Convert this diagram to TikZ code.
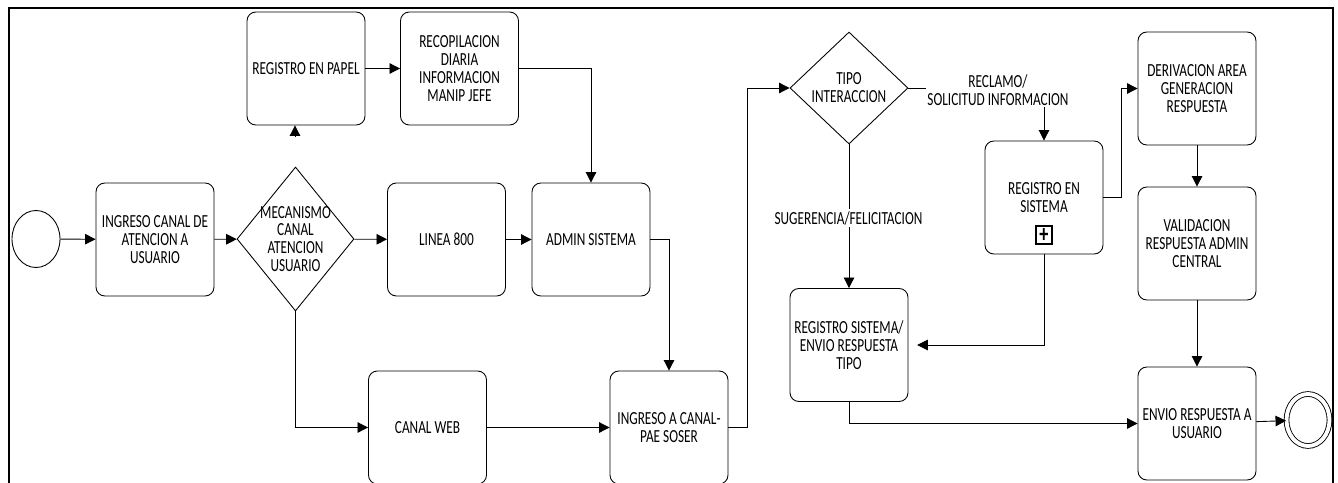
\documentclass[tikz,border=0pt]{standalone}
\usepackage{fontspec}
\setmainfont{Carlito}[FakeStretch=0.72]
\usetikzlibrary{arrows.meta, shapes.geometric, positioning}
\tikzset{
    texto/.style={font=\fontsize{10.5}{10.2}\selectfont, align=center},
    caja/.style={draw, texto, line width=0.5pt, rounded corners=5pt, minimum width=2.36cm, minimum height=2.26cm, inner sep=1pt},
    rombo/.style={draw, diamond, line width=0.5pt, inner sep=0pt},
    evento/.style={draw, ellipse, line width=0.5pt, inner sep=0pt, minimum width=0.96cm, minimum height=1.14cm},
    flecha/.style={line width=0.5pt, -{Triangle[length=6pt,width=6pt]}},
    etiqueta/.style={texto, fill=white, inner sep=1pt},
}

\begin{document}
\begin{tikzpicture}[x=0.02cm, y=-0.02cm]
\useasboundingbox (0,0) rectangle (1338,483);
\draw[line width=1.6pt] (9,483) -- (9,8) -- (1333,8) -- (1333,483);

\node[evento] (inicio) at (36,239) {};
\node[caja] (ingreso) at (155,239.5) {INGRESO CANAL DE\\ATENCION A\\USUARIO};
\node[rombo, minimum width=2.34cm, minimum height=2.88cm,
      label={[texto]center:MECANISMO\\CANAL\\ATENCION\\USUARIO}] (mecanismo) at (295.5,239) {};
\node[caja] (papel) at (306,68.5) {REGISTRO EN PAPEL};
\node[caja] (recopilacion) at (459.5,68.5) {RECOPILACION\\DIARIA\\INFORMACION\\MANIP JEFE};
\node[caja] (linea) at (446.5,239.5) {LINEA 800};
\node[caja] (admin) at (591,239.5) {ADMIN SISTEMA};
\node[caja] (web) at (427.5,427.5) {CANAL WEB};
\node[caja] (pae) at (669,427.5) {INGRESO A CANAL-\\PAE SOSER};
\node[rombo, minimum width=2.36cm, minimum height=2.24cm,
      label={[texto]center:TIPO\\INTERACCION}] (tipo) at (849,88) {};
\node[caja] (regsis) at (1044,197.5) {REGISTRO EN\\SISTEMA};
\node[draw, line width=0.6pt, minimum width=0.32cm, minimum height=0.36cm, inner sep=0pt,
      font=\Large\bfseries] (marca) at (1044,235) {+};
\node[caja] (regtipo) at (849,345) {REGISTRO SISTEMA/\\ENVIO RESPUESTA\\TIPO};
\node[caja] (deriv) at (1197,88.5) {DERIVACION AREA\\GENERACION\\RESPUESTA};
\node[caja] (valid) at (1197,243.5) {VALIDACION\\RESPUESTA ADMIN\\CENTRAL};
\node[caja] (envio) at (1197,423.5) {ENVIO RESPUESTA A\\USUARIO};
\node[evento, minimum width=0.86cm, minimum height=1.04cm, double, double distance=2.2pt] (fin) at (1308,420) {};
\coordinate (papelpunta) at (295,137);

\draw[flecha] (inicio) -- (ingreso);
\draw[flecha] (ingreso) -- (mecanismo);
\draw[flecha] (mecanismo) -- (linea);
\draw[flecha] (linea) -- (admin);
\draw[flecha] (papelpunta) -- (papelpunta |- papel.south);
\draw[flecha] (papel) -- (recopilacion);
\draw[flecha] (recopilacion.east) -| (admin.north);
\draw[flecha] (admin.east) -| (pae.north);
\draw[flecha] (mecanismo.south) |- (web.west);
\draw[flecha] (web) -- (pae);
\draw[flecha] (pae.east) -- ++(19,0) |- (tipo.west);
\draw[flecha] (tipo.east) -| (regsis.north);
\draw[flecha] (tipo.south) -- (regtipo.north);
\draw[flecha, shorten >=5pt] (regsis.south) |- (regtipo.east);
\draw[flecha] (regsis.east) -- ++(18,0) |- (deriv.west);
\draw[flecha] (deriv) -- (valid);
\draw[flecha] (valid) -- (envio);
\draw[flecha] (regtipo.south) |- (envio.west);
\draw[flecha] (envio) -- (fin);

\node[etiqueta] (reclamo) at (998,90) {RECLAMO/\\SOLICITUD INFORMACION};
\node[etiqueta] (sugerencia) at (848.5,218) {SUGERENCIA/FELICITACION};
\end{tikzpicture}
\end{document}
